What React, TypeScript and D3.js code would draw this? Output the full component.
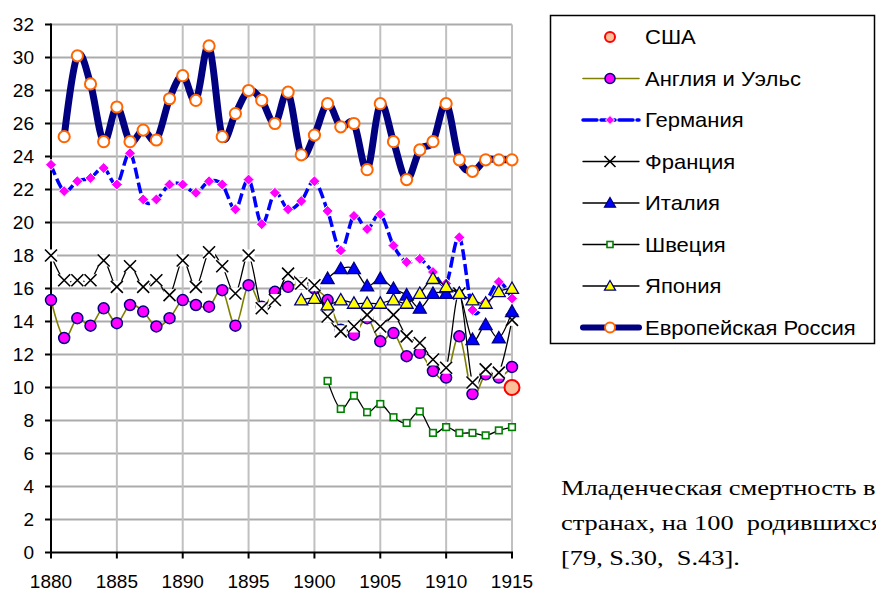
import React from 'react';
import * as d3 from 'd3';

const years: number[] = [
  1880, 1881, 1882, 1883, 1884, 1885, 1886, 1887, 1888, 1889,
  1890, 1891, 1892, 1893, 1894, 1895, 1896, 1897, 1898, 1899,
  1900, 1901, 1902, 1903, 1904, 1905, 1906, 1907, 1908, 1909,
  1910, 1911, 1912, 1913, 1914, 1915,
];

type V = number | null;
const _ = null;

const usa: V[] = [
  _, _, _, _, _, _, _, _, _, _, _, _, _, _, _, _, _, _, _, _,
  _, _, _, _, _, _, _, _, _, _, _, _, _, _, _, 10.0,
];
const england: V[] = [
  15.3, 13.0, 14.2, 13.75, 14.8, 13.9, 15.0, 14.6, 13.7, 14.2,
  15.3, 15.0, 14.9, 15.9, 13.75, 16.2, 14.9, 15.8, 16.1, 16.3,
  16.0, 15.3, 13.5, 13.2, 14.2, 12.8, 13.3, 11.9, 12.1, 11.0,
  10.6, 13.1, 9.6, 10.8, 10.6, 11.25,
];
const germany: V[] = [
  23.5, 21.9, 22.5, 22.7, 23.3, 22.3, 24.2, 21.4, 21.4, 22.3,
  22.3, 21.8, 22.5, 22.3, 20.8, 22.6, 19.9, 21.8, 20.8, 21.3,
  22.5, 20.7, 18.3, 20.4, 19.6, 20.5, 18.6, 17.6, 17.8, 17.0,
  16.3, 19.1, 14.7, 15.2, 16.4, 15.4,
];
const france: V[] = [
  18.0, 16.5, 16.5, 16.5, 17.7, 16.1, 17.35, 16.1, 16.5, 15.6,
  17.7, 16.1, 18.2, 17.35, 15.7, 18.0, 14.8, 15.3, 16.9, 16.3,
  16.2, 14.3, 13.4, 13.7, 14.4, 13.7, 14.4, 13.1, 12.7, 11.7,
  11.2, 15.7, 10.3, 11.1, 10.9, 14.1,
];
const italy: V[] = [
  _, _, _, _, _, _, _, _, _, _, _, _, _, _, _, _, _, _, _, _, _,
  16.6, 17.2, 17.2, 16.15, 16.6, 16.0, 15.6, 14.8, 15.7,
  15.7, 15.7, 12.9, 13.8, 13.0, 14.6,
];
const sweden: V[] = [
  _, _, _, _, _, _, _, _, _, _, _, _, _, _, _, _, _, _, _, _, _,
  10.4, 8.7, 9.5, 8.5, 9.0, 8.2, 7.85, 8.55, 7.25,
  7.6, 7.25, 7.25, 7.1, 7.4, 7.6,
];
const japan: V[] = [
  _, _, _, _, _, _, _, _, _, _, _, _, _, _, _, _, _, _, _,
  15.3, 15.4, 15.0, 15.3, 15.1, 15.1, 15.1, 15.3, 15.1, 15.7, 16.6,
  16.1, 15.7, 15.3, 15.1, 15.8, 16.0,
];
const russia: V[] = [
  _, 25.2, 30.1, 28.4, 24.9, 27.0, 24.9, 25.6, 25.0, 27.5,
  28.9, 27.4, 30.7, 25.2, 26.6, 28.0, 27.4, 26.0, 27.9, 24.1,
  25.3, 27.2, 25.8, 26.0, 23.2, 27.2, 24.9, 22.6, 24.4, 24.9,
  27.2, 23.8, 23.1, 23.8, 23.8, 23.8,
];

const seriesNames: string[] = [
  'США', 'Англия и Уэльс', 'Германия', 'Франция', 'Италия', 'Швеция', 'Япония', 'Европейская Россия',
];
const yTicks: number[] = [0, 2, 4, 6, 8, 10, 12, 14, 16, 18, 20, 22, 24, 26, 28, 30, 32];
const xTicks: number[] = [1880, 1885, 1890, 1895, 1900, 1905, 1910, 1915];
const captionLines: string[] = [
  'Младенческая смертность в',
  'странах, на 100  родившихся',
  '[79, S.30,  S.43].',
];

type Marker = 'circle' | 'diamond' | 'x' | 'tri' | 'square' | 'none';
interface Style {
  line: string | null;
  width: number;
  dash?: string;
  marker: Marker;
  fill: string;
  stroke: string;
  size: number;
  mstroke: number;
}

const styles: Style[] = [
  { line: null, width: 0, marker: 'circle', fill: '#fbc09a', stroke: '#ff0000', size: 7.5, mstroke: 2 },
  { line: '#808000', width: 1.6, marker: 'circle', fill: '#ff00ff', stroke: '#000080', size: 5.5, mstroke: 1.5 },
  { line: '#0000ff', width: 3.5, dash: '11 4', marker: 'diamond', fill: '#ff00ff', stroke: '#ffffff', size: 5.5, mstroke: 1 },
  { line: '#000000', width: 1.3, marker: 'x', fill: '#ffffff', stroke: '#000000', size: 6, mstroke: 1.6 },
  { line: '#000000', width: 1.3, marker: 'tri', fill: '#0000ff', stroke: '#000080', size: 6.5, mstroke: 1.3 },
  { line: '#000000', width: 1.3, marker: 'square', fill: '#ffffff', stroke: '#008000', size: 3.3, mstroke: 1.6 },
  { line: '#000000', width: 1.3, marker: 'tri', fill: '#ffff00', stroke: '#000080', size: 6.5, mstroke: 1.3 },
  { line: '#000080', width: 7, marker: 'circle', fill: '#ffffff', stroke: '#ff6600', size: 5.6, mstroke: 2 },
];

const seriesData: V[][] = [usa, england, germany, france, italy, sweden, japan, russia];

const W = 876;
const H = 592;
const x = d3.scaleLinear().domain([1880, 1915]).range([51, 512]);
const y = d3.scaleLinear().domain([0, 32]).range([552.5, 24.5]);

function MarkerShape({ cx, cy, s }: { cx: number; cy: number; s: Style }) {
  const r = s.size;
  if (s.marker === 'circle') {
    return <circle cx={cx} cy={cy} r={r} fill={s.fill} stroke={s.stroke} strokeWidth={s.mstroke} />;
  }
  if (s.marker === 'diamond') {
    const p = `M${cx},${cy - r}L${cx + r},${cy}L${cx},${cy + r}L${cx - r},${cy}Z`;
    return <path d={p} fill={s.fill} stroke={s.stroke} strokeWidth={s.mstroke} />;
  }
  if (s.marker === 'x') {
    const p = `M${cx - r},${cy - r}L${cx + r},${cy + r}M${cx - r},${cy + r}L${cx + r},${cy - r}`;
    return (
      <g>
        <rect x={cx - r} y={cy - r} width={2 * r} height={2 * r} fill={s.fill} />
        <path d={p} fill="none" stroke={s.stroke} strokeWidth={s.mstroke} />
      </g>
    );
  }
  if (s.marker === 'tri') {
    const p = `M${cx},${cy - r}L${cx + r},${cy + r * 0.75}L${cx - r},${cy + r * 0.75}Z`;
    return <path d={p} fill={s.fill} stroke={s.stroke} strokeWidth={s.mstroke} />;
  }
  if (s.marker === 'square') {
    return <rect x={cx - r} y={cy - r} width={2 * r} height={2 * r} fill={s.fill} stroke={s.stroke} strokeWidth={s.mstroke} />;
  }
  return null;
}

export default function App() {
  const font = '"Liberation Sans", Arial, sans-serif';
  const lineGen = d3
    .line<[number, V]>()
    .defined((d) => d[1] != null)
    .x((d) => x(d[0]))
    .y((d) => y(d[1] as number))
    .curve(d3.curveCardinal.tension(0));

  const legendX0 = 583;
  const legendX1 = 639;
  const legendMx = 610;
  const legendY = (i: number) => 37 + i * 41.5;

  return (
    <svg
      width={W}
      height={H}
      style={{ position: 'absolute', left: 0, top: 0, background: '#fff' }}
      fontFamily={font}
    >
      <rect x={0} y={0} width={W} height={H} fill="#ffffff" />
      {yTicks.filter((t) => t > 0).map((t) => (
        <line key={'hy' + t} x1={x(1880)} x2={x(1915)} y1={y(t)} y2={y(t)} stroke="#ababab" strokeWidth={2} />
      ))}
      {xTicks.filter((t) => t > 1880).map((t) => (
        <line key={'vx' + t} x1={x(t)} x2={x(t)} y1={y(32)} y2={y(0)} stroke="#c0c0c0" strokeWidth={2} />
      ))}
      <line x1={x(1880)} x2={x(1880)} y1={y(32) - 1} y2={y(0) + 1} stroke="#000" strokeWidth={2} />
      <line x1={x(1880) - 1} x2={x(1915) + 1} y1={y(0)} y2={y(0)} stroke="#000" strokeWidth={2} />
      {yTicks.map((t) => (
        <g key={'yt' + t}>
          <line x1={x(1880) - 6} x2={x(1880)} y1={y(t)} y2={y(t)} stroke="#000" strokeWidth={2} />
          <text x={34} y={y(t)} dy="0.35em" textAnchor="end" fontSize={19} fill="#000">
            {t}
          </text>
        </g>
      ))}
      {xTicks.map((t) => (
        <g key={'xt' + t}>
          <line x1={x(t)} x2={x(t)} y1={y(0)} y2={y(0) + 6} stroke="#000" strokeWidth={2} />
          <text x={x(t)} y={581} dy="0.35em" textAnchor="middle" fontSize={19} fill="#000">
            {t}
          </text>
        </g>
      ))}

      {seriesData.map((vals, si) => {
        const s = styles[si];
        const pts: [number, V][] = years.map((yr, i) => [yr, vals[i]]);
        return (
          <g key={'s' + si}>
            {s.line && (
              <path
                d={lineGen(pts) || ''}
                fill="none"
                stroke={s.line}
                strokeWidth={s.width}
                strokeDasharray={s.dash}
                strokeLinejoin="round"
                strokeLinecap={s.dash ? 'butt' : 'round'}
              />
            )}
            {pts
              .filter((p) => p[1] != null)
              .map((p, i) => (
                <MarkerShape key={'m' + si + '-' + i} cx={x(p[0])} cy={y(p[1] as number)} s={s} />
              ))}
          </g>
        );
      })}

      <rect x={550.5} y={15.5} width={324} height={328} fill="#fff" stroke="#000" strokeWidth={1.5} />
      {seriesNames.map((name, i) => {
        const s = styles[i];
        const ly = legendY(i);
        const ls: Style = {
          ...s,
          size: i === 0 ? 5 : s.marker === 'diamond' ? 4.5 : s.marker === 'tri' ? 5.5 : s.marker === 'square' ? 3 : s.marker === 'x' ? 5.5 : 5,
          fill: s.marker === 'x' ? 'none' : s.fill,
        };
        return (
          <g key={'lg' + i}>
            {s.line && (
              <line
                x1={legendX0}
                x2={legendX1}
                y1={ly}
                y2={ly}
                stroke={s.line}
                strokeWidth={i === 7 ? 6 : s.width}
                strokeDasharray={s.dash ? '14 4' : undefined}
                strokeLinecap="round"
              />
            )}
            <MarkerShape cx={legendMx} cy={ly} s={ls} />
            <text
              transform={`translate(645,${ly}) scale(1.1,1)`}
              dy="0.35em"
              fontSize={20}
              fill="#000"
            >
              {name}
            </text>
          </g>
        );
      })}

      {captionLines.map((l, i) => (
        <text
          key={'cap' + i}
          transform={`translate(561,${495 + i * 35}) scale(1.2,1)`}
          fontSize={22}
          fontFamily='"Liberation Serif", "Times New Roman", serif'
          fill="#000"
          style={{ whiteSpace: 'pre' }}
        >
          {l}
        </text>
      ))}
    </svg>
  );
}
